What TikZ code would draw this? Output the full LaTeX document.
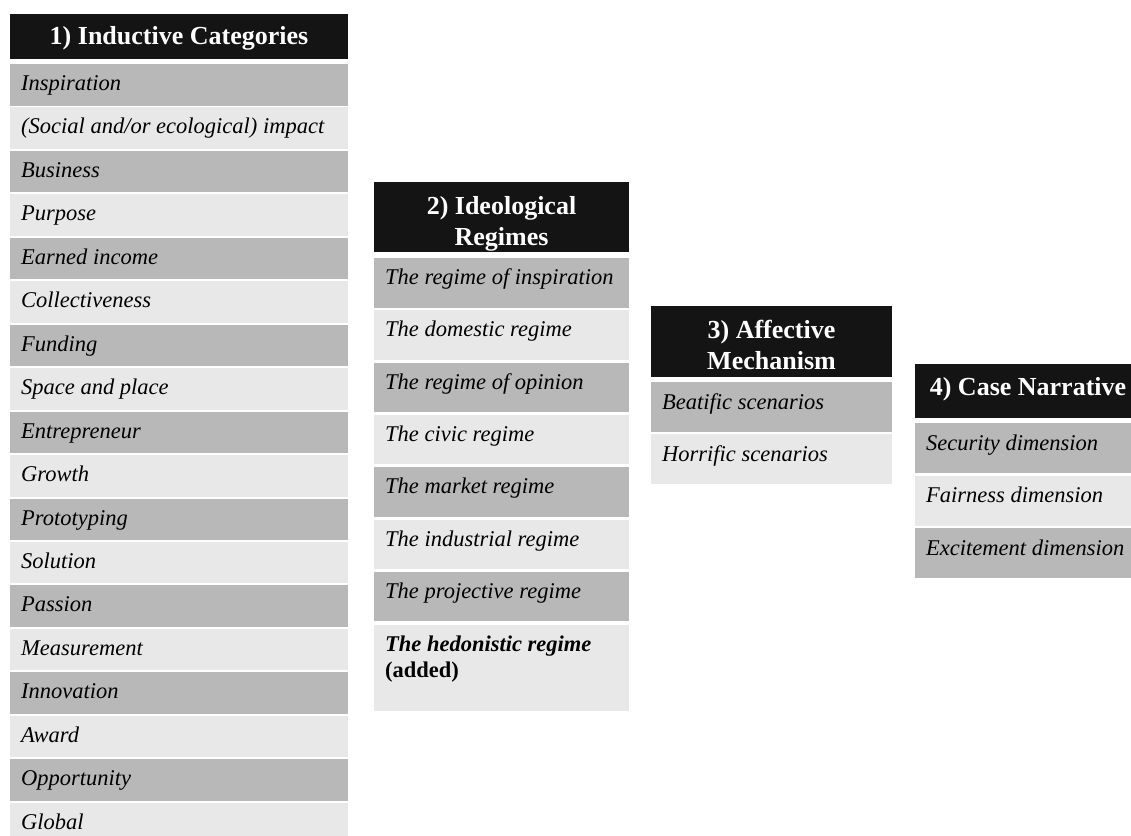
\documentclass[tikz,border=0pt]{standalone}
\usepackage{fontspec}
\setmainfont{Liberation Serif}
\usetikzlibrary{calc}
\definecolor{hdr}{HTML}{141414}
\definecolor{dk}{HTML}{B8B8B8}
\definecolor{lt}{HTML}{E8E8E8}
\begin{document}
\begin{tikzpicture}[x=1pt,y=-1pt,
  hdrbox/.style={fill=hdr, text=white, inner sep=0pt, outer sep=0pt, align=center,
    font=\fontsize{26}{29.5}\selectfont\bfseries},
  hdrtxt/.style={text=white, inner sep=0pt, outer sep=0pt, align=center,
    font=\fontsize{26}{31.5}\selectfont\bfseries},
  cellbox/.style={inner sep=0pt, outer sep=0pt, anchor=north west},
  celltxt/.style={inner sep=0pt, anchor=base west, text=black,
    font=\fontsize{22.5}{22}\selectfont\itshape}
]
\useasboundingbox (0,0) rectangle (1131,835);

% ---------- Column 1 ----------
\node[hdrbox, minimum width=338pt, minimum height=45pt] (h1) at (179,36.5) {};
\node[hdrtxt, yshift=-2pt] (h1t) at (h1.center) {1) Inductive Categories};
\foreach \t [count=\i from 0] in {Inspiration, {(Social and/or ecological) impact},
  Business, Purpose, Earned income, Collectiveness, Funding, Space and place,
  Entrepreneur, Growth, Prototyping, Solution, Passion, Measurement, Innovation,
  Award, Opportunity, Global} {
  \def\cc{dk}\ifodd\i\def\cc{lt}\fi
  \pgfmathsetmacro\yy{64+43.45*\i}
  \node[cellbox, fill=\cc, minimum width=338pt, minimum height=41.5pt] (c1-\i) at (10,\yy) {};
  \node[celltxt] (t1-\i) at ($(c1-\i.north west)+(11,26.5)$) {\t};
}

% ---------- Column 2 ----------
\node[hdrbox, minimum width=255pt, minimum height=70pt] (h2) at (501.5,217) {};
\node[hdrtxt, yshift=-7pt] (h2t) at (h2.center) {2) Ideological\\Regimes};
\foreach \t [count=\i from 0] in {The regime of inspiration, The domestic regime,
  The regime of opinion, The civic regime, The market regime, The industrial regime,
  The projective regime} {
  \def\cc{dk}\ifodd\i\def\cc{lt}\fi
  \pgfmathsetmacro\yy{258+52.33*\i}
  \node[cellbox, fill=\cc, minimum width=255pt, minimum height=49.5pt] (c2-\i) at (374,\yy) {};
  \node[celltxt] (t2-\i) at ($(c2-\i.north west)+(11,26.5)$) {\t};
}
\node[cellbox, fill=lt, minimum width=255pt, minimum height=86.5pt] (c2-7) at (374,624.5) {};
\node[celltxt] (t2-7a) at ($(c2-7.north west)+(11,27)$) {\bfseries The hedonistic regime};
\node[celltxt] (t2-7b) at ($(c2-7.north west)+(11,53)$) {\bfseries\upshape (added)};

% ---------- Column 3 ----------
\node[hdrbox, minimum width=241pt, minimum height=71pt] (h3) at (771.5,341.5) {};
\node[hdrtxt, yshift=-3.5pt] (h3t) at (h3.center) {3) Affective\\Mechanism};
\node[cellbox, fill=dk, minimum width=241pt, minimum height=50pt] (c3-0) at (651,382) {};
\node[celltxt] (t3-0) at ($(c3-0.north west)+(11,27)$) {Beatific scenarios};
\node[cellbox, fill=lt, minimum width=241pt, minimum height=49.5pt] (c3-1) at (651,434) {};
\node[celltxt] (t3-1) at ($(c3-1.north west)+(11,27)$) {Horrific scenarios};

% ---------- Column 4 ----------
\node[hdrbox, minimum width=226pt, minimum height=54pt] (h4) at (1028,391) {};
\node[hdrtxt, yshift=1.5pt] (h4t) at (h4.center) {4) Case Narrative};
\node[cellbox, fill=dk, minimum width=226pt, minimum height=50pt] (c4-0) at (915,423) {};
\node[celltxt] (t4-0) at ($(c4-0.north west)+(11,27)$) {Security dimension};
\node[cellbox, fill=lt, minimum width=226pt, minimum height=50.5pt] (c4-1) at (915,475.5) {};
\node[celltxt] (t4-1) at ($(c4-1.north west)+(11,27)$) {Fairness dimension};
\node[cellbox, fill=dk, minimum width=226pt, minimum height=49.5pt] (c4-2) at (915,528) {};
\node[celltxt] (t4-2) at ($(c4-2.north west)+(11,27)$) {Excitement dimension};
\end{tikzpicture}
\end{document}
